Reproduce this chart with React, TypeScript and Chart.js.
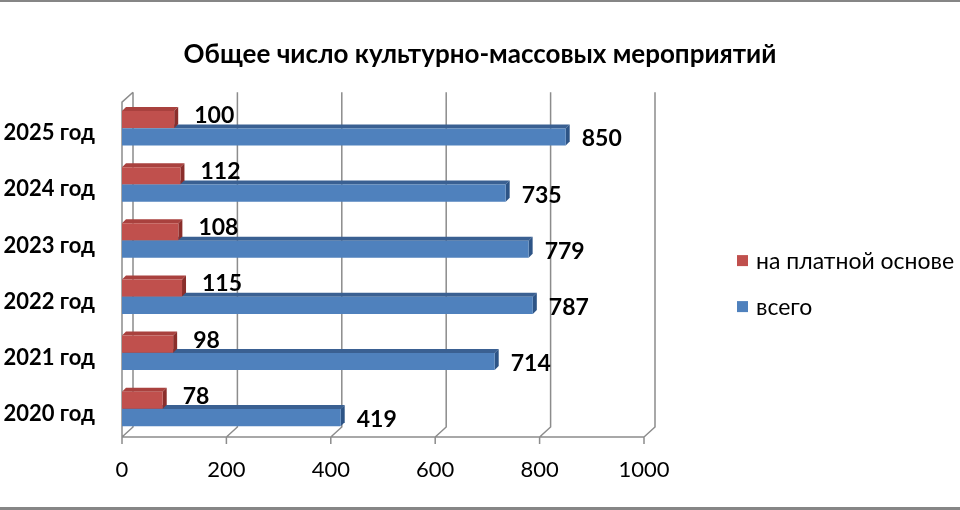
import { useEffect, useRef } from "react";
import { Chart, registerables, Plugin } from "chart.js";

Chart.register(...registerables);

const chartTitle = "Общее число культурно-массовых мероприятий";
const categories = ["2025 год", "2024 год", "2023 год", "2022 год", "2021 год", "2020 год"];
const seriesNames = ["на платной основе", "всего"];
const paidValues = [100, 112, 108, 115, 98, 78];
const totalValues = [850, 735, 779, 787, 714, 419];
const xTicks = [0, 200, 400, 600, 800, 1000];

const FONT = "Lato, 'Open Sans', sans-serif";
const RED = "#C0504D";
const BLUE = "#4F81BD";
// top face / side face for the fake 3D bars
const faceColors = [
  { top: "#A9413E", side: "#8A2E2B" },
  { top: "#3A6092", side: "#2D5486" },
];

const DX = 11; // depth of the floor
const DY = 10;
const BAR_DEPTH = 4;

const depthGrid: Plugin<"bar"> = {
  id: "depthGrid",
  beforeDatasetsDraw(chart) {
    const { ctx, chartArea, scales } = chart;
    const { left, right, top, bottom } = chartArea;
    const x = scales.x;
    ctx.save();
    ctx.strokeStyle = "#8C8C8C";
    ctx.lineWidth = 1.5;
    ctx.beginPath();
    ctx.moveTo(left, bottom);
    ctx.lineTo(right, bottom);
    x.ticks.forEach((t) => {
      const px = x.getPixelForValue(t.value);
      ctx.moveTo(px, bottom + 7);
      ctx.lineTo(px, bottom);
      ctx.lineTo(px + DX, bottom - DY);
      ctx.lineTo(px + DX, top - 8);
    });
    ctx.moveTo(left, bottom);
    ctx.lineTo(left, top + 2);
    ctx.lineTo(left + DX, top - 8);
    ctx.stroke();

    // bar side and top faces, drawn under the front faces
    for (let d = chart.data.datasets.length - 1; d >= 0; d--) {
      const meta = chart.getDatasetMeta(d);
      const colors = faceColors[d];
      meta.data.forEach((el) => {
        const p = el.getProps(["x", "y", "base", "height"], true) as any;
        const t = p.y - p.height / 2;
        const b = p.y + p.height / 2;
        ctx.fillStyle = colors.top;
        ctx.beginPath();
        ctx.moveTo(p.base, t);
        ctx.lineTo(p.base + BAR_DEPTH, t - BAR_DEPTH);
        ctx.lineTo(p.x + BAR_DEPTH, t - BAR_DEPTH);
        ctx.lineTo(p.x, t);
        ctx.closePath();
        ctx.fill();
        ctx.fillStyle = colors.side;
        ctx.beginPath();
        ctx.moveTo(p.x, t);
        ctx.lineTo(p.x + BAR_DEPTH, t - BAR_DEPTH);
        ctx.lineTo(p.x + BAR_DEPTH, b - BAR_DEPTH);
        ctx.lineTo(p.x, b);
        ctx.closePath();
        ctx.fill();
      });
    }
    ctx.restore();
  },
};

const valueLabels: Plugin<"bar"> = {
  id: "valueLabels",
  afterDatasetsDraw(chart) {
    const { ctx } = chart;
    ctx.save();
    ctx.fillStyle = "#000";
    ctx.font = `bold 23px ${FONT}`;
    ctx.textAlign = "left";
    ctx.textBaseline = "middle";
    chart.data.datasets.forEach((ds, d) => {
      const meta = chart.getDatasetMeta(d);
      meta.data.forEach((el, i) => {
        const p = el.getProps(["x", "y"], true) as any;
        const dx = d === 0 ? 20 : 16;
        const dy = d === 0 ? -4 : 2;
        ctx.fillText(String(ds.data[i]), p.x + dx, p.y + dy);
      });
    });
    ctx.restore();
  },
};

const sideLegend: Plugin<"bar"> = {
  id: "sideLegend",
  afterDraw(chart) {
    const { ctx, chartArea } = chart;
    const lx = chartArea.right + 93;
    const cy = (chartArea.top + chartArea.bottom) / 2;
    ctx.save();
    ctx.font = `23px ${FONT}`;
    ctx.textBaseline = "middle";
    ctx.textAlign = "left";
    chart.data.datasets.forEach((ds, i) => {
      const y = cy - 8 + i * 46;
      ctx.fillStyle = ds.backgroundColor as string;
      ctx.fillRect(lx, y - 5.5, 11, 11);
      ctx.fillStyle = "#000";
      ctx.fillText(ds.label || "", lx + 19, y + 1);
    });
    // frame lines of the picture
    ctx.fillStyle = "#868686";
    ctx.fillRect(0, 0, chart.width, 2);
    ctx.fillRect(0, chart.height - 3, chart.width, 3);
    ctx.restore();
  },
};

export default function App() {
  const canvasRef = useRef<HTMLCanvasElement>(null);
  const chartRef = useRef<Chart | null>(null);

  useEffect(() => {
    if (!canvasRef.current) return;
    if (chartRef.current) chartRef.current.destroy();

    chartRef.current = new Chart(canvasRef.current, {
      type: "bar",
      data: {
        labels: categories,
        datasets: [
          { label: seriesNames[0], data: paidValues, backgroundColor: RED },
          { label: seriesNames[1], data: totalValues, backgroundColor: BLUE },
        ],
      },
      options: {
        indexAxis: "y",
        responsive: true,
        maintainAspectRatio: false,
        animation: false,
        layout: { padding: 0 },
        datasets: {
          bar: { categoryPercentage: 0.62, barPercentage: 0.98, borderWidth: 0 },
        },
        plugins: {
          legend: { display: false },
          tooltip: { enabled: false },
          title: {
            display: true,
            text: chartTitle,
            color: "#000",
            font: { family: FONT, size: 26, weight: "bold" },
            padding: { top: 39, bottom: 30 },
          },
        },
        scales: {
          x: {
            min: 0,
            max: 1000,
            afterBuildTicks: (s) => {
              s.ticks = xTicks.map((v) => ({ value: v }));
            },
            afterFit: (s) => {
              s.height = 73;
            },
            grid: { display: false, drawTicks: false },
            border: { display: false },
            ticks: {
              color: "#000",
              padding: 20,
              font: { family: FONT, size: 22 },
              callback: (v) => String(v),
            },
          },
          y: {
            afterFit: (s) => {
              s.width = 122;
            },
            grid: { display: false, drawTicks: false },
            border: { display: false },
            ticks: {
              color: "#000",
              padding: 27,
              labelOffset: 5,
              font: { family: FONT, size: 22, weight: "bold" },
            },
          },
          pad: {
            type: "linear",
            position: "right",
            afterFit: (s) => {
              s.width = 316;
            },
            grid: { display: false, drawTicks: false },
            border: { display: false },
            ticks: { display: false },
          },
        },
      },
      plugins: [depthGrid, valueLabels, sideLegend],
    });

    return () => {
      if (chartRef.current) {
        chartRef.current.destroy();
        chartRef.current = null;
      }
    };
  }, []);

  return (
    <div style={{ position: "absolute", left: 0, top: 0, width: 960, height: 510, background: "#fff" }}>
      <canvas ref={canvasRef} />
    </div>
  );
}
